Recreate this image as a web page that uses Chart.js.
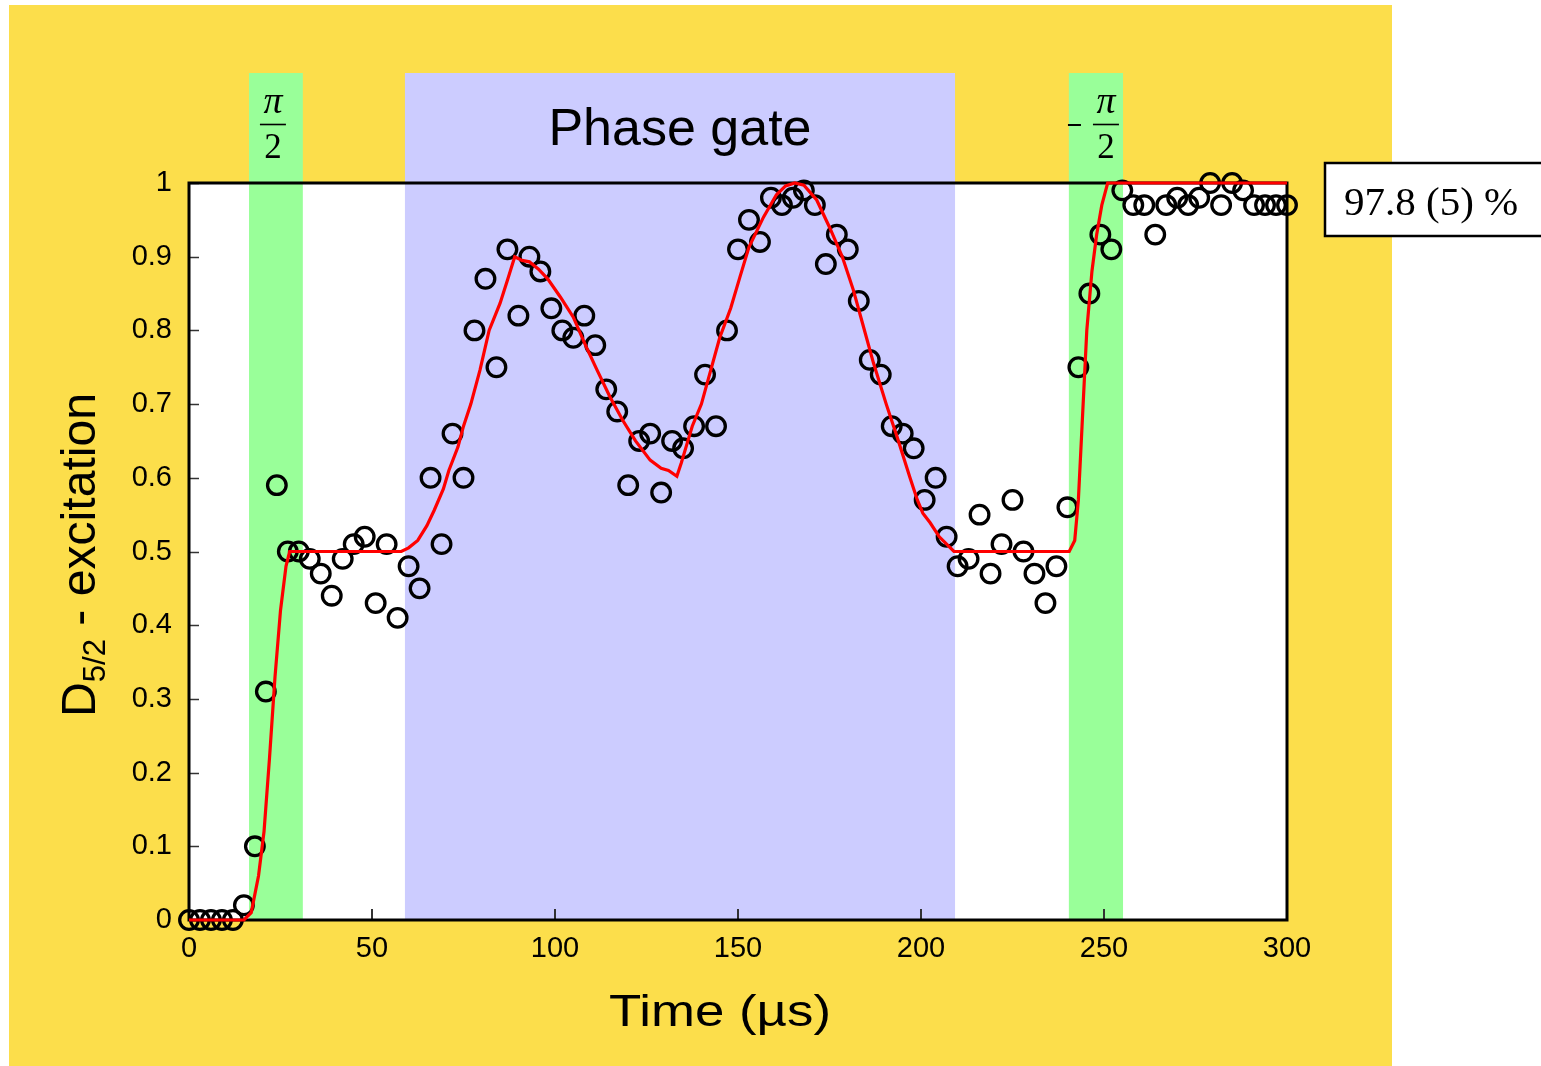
<!DOCTYPE html>
<html><head><meta charset="utf-8">
<script src="https://cdn.jsdelivr.net/npm/chart.js@4.4.0/dist/chart.umd.min.js"></script>
<style>html,body{margin:0;padding:0;background:#fff;overflow:hidden}canvas{display:block}</style>
</head><body>
<canvas id="c" width="1541" height="1066" style="width:1541px;height:1066px"></canvas>
<script>
// ---- data ----
const timeUs = [0,3,6,9,12,15,18,21,24,27,30,33,36,39,42,45,48,51,54,57,60,63,66,69,72,75,78,81,84,87,90,93,96,99,102,105,108,111,114,117,120,123,126,129,132,135,138,141,144,147,150,153,156,159,162,165,168,171,174,177,180,183,186,189,192,195,198,201,204,207,210,213,216,219,222,225,228,231,234,237,240,243,246,249,252,255,258,261,264,267,270,273,276,279,282,285,288,291,294,297,300];
const excitation = [0,0,0,0,0,0.02,0.10,0.31,0.59,0.50,0.50,0.49,0.47,0.44,0.49,0.51,0.52,0.43,0.51,0.41,0.48,0.45,0.60,0.51,0.66,0.60,0.80,0.87,0.75,0.91,0.82,0.90,0.88,0.83,0.80,0.79,0.82,0.78,0.72,0.69,0.59,0.65,0.66,0.58,0.65,0.64,0.67,0.74,0.67,0.80,0.91,0.95,0.92,0.98,0.97,0.98,0.99,0.97,0.89,0.93,0.91,0.84,0.76,0.74,0.67,0.66,0.64,0.57,0.60,0.52,0.48,0.49,0.55,0.47,0.51,0.57,0.50,0.47,0.43,0.48,0.56,0.75,0.85,0.93,0.91,0.99,0.97,0.97,0.93,0.97,0.98,0.97,0.98,1.00,0.97,1.00,0.99,0.97,0.97,0.97,0.97];
const fitTime  = [0,15,17,19,20.5,22,23.5,25,26.5,27.5,58,60,62.5,65,67,69.5,71,73.5,75,77,79.5,82,85,87,89,91,93,95.5,98,101.5,105,108.5,111.5,115,118.5,122,126,129,131,133.3,134.5,136,137.5,140,142.5,145,148,150.5,153,157,160.5,163,165.5,168,171.5,175,178.5,181.5,184,187,190.5,193.5,197,199,200.5,202.5,205,207,209,240.5,242,243,244,245.3,246.7,248,249.4,251,300];
const fitValue = [0,0,0.01,0.06,0.12,0.22,0.33,0.42,0.48,0.50,0.50,0.505,0.515,0.535,0.556,0.585,0.61,0.642,0.67,0.70,0.746,0.80,0.837,0.868,0.90,0.895,0.893,0.883,0.87,0.845,0.818,0.778,0.746,0.71,0.678,0.65,0.624,0.613,0.61,0.602,0.62,0.645,0.67,0.70,0.745,0.79,0.83,0.872,0.913,0.954,0.984,0.996,1.0,0.997,0.977,0.94,0.90,0.855,0.81,0.756,0.70,0.655,0.60,0.57,0.552,0.539,0.52,0.51,0.50,0.50,0.515,0.57,0.67,0.80,0.88,0.93,0.97,1.0,1.0];
const xTicks = [0,50,100,150,200,250,300];
const yTicks = [0,0.1,0.2,0.3,0.4,0.5,0.6,0.7,0.8,0.9,1];
const pulseStart = [16.4, 59.0, 240.4];
const pulseEnd   = [31.1, 209.3, 255.2];
const pulseKind  = ['pi2', 'gate', 'mpi2'];
const gateLabel = 'Phase gate';
const fidelityLabel = '97.8 (5) %';
const xTitle = 'Time (\u00b5s)';

const YELLOW = '#FCDE4B', GREEN = '#99FF99', BLUE = '#CCCCFF';
const SANS = '"Liberation Sans", Arial, sans-serif';
const SERIF = '"Liberation Serif", "Times New Roman", serif';

function fraction(ctx, cx, minus) {
  ctx.save();
  ctx.fillStyle = '#000'; ctx.strokeStyle = '#000';
  ctx.textAlign = 'center';
  ctx.font = 'italic 38px ' + SERIF;
  ctx.textBaseline = 'alphabetic';
  ctx.fillText('\u03c0', cx, 113);
  ctx.lineWidth = 1.6;
  ctx.beginPath(); ctx.moveTo(cx - 13, 124.5); ctx.lineTo(cx + 13, 124.5); ctx.stroke();
  ctx.font = '35px ' + SERIF;
  ctx.fillText('2', cx, 158);
  if (minus) {
    ctx.lineWidth = 2;
    ctx.beginPath(); ctx.moveTo(cx - 38, 125); ctx.lineTo(cx - 25, 125); ctx.stroke();
  }
  ctx.restore();
}

const decor = {
  id: 'decor',
  beforeDraw(chart) {
    const ctx = chart.ctx, ca = chart.chartArea, xs = chart.scales.x;
    ctx.save();
    ctx.fillStyle = '#fff'; ctx.fillRect(0, 0, chart.width, chart.height);
    ctx.fillStyle = YELLOW; ctx.fillRect(9, 5, 1383, 1061);
    ctx.fillStyle = '#fff'; ctx.fillRect(ca.left, ca.top, ca.right - ca.left, ca.bottom - ca.top);
    for (let i = 0; i < pulseStart.length; i++) {
      const x0 = xs.getPixelForValue(pulseStart[i]);
      const x1 = xs.getPixelForValue(pulseEnd[i]);
      ctx.fillStyle = pulseKind[i] === 'gate' ? BLUE : GREEN;
      ctx.fillRect(x0, 73, x1 - x0, ca.bottom - 73);
    }
    ctx.restore();
  },
  beforeDatasetsDraw(chart) {
    const ctx = chart.ctx, ca = chart.chartArea, xs = chart.scales.x, ys = chart.scales.y;
    ctx.save();
    ctx.strokeStyle = '#333'; ctx.lineWidth = 1.5;
    yTicks.forEach(v => {
      const y = Math.round(ys.getPixelForValue(v)) + 0.5;
      ctx.beginPath(); ctx.moveTo(ca.left, y); ctx.lineTo(ca.left + 10, y); ctx.stroke();
    });
    ctx.lineWidth = 2;
    xTicks.forEach(v => {
      const x = Math.round(xs.getPixelForValue(v));
      ctx.beginPath(); ctx.moveTo(x, ca.bottom); ctx.lineTo(x, ca.bottom - 11); ctx.stroke();
    });
    ctx.strokeStyle = '#000'; ctx.lineWidth = 3;
    ctx.strokeRect(ca.left, ca.top, ca.right - ca.left, ca.bottom - ca.top);
    ctx.restore();
  },
  afterDraw(chart) {
    const ctx = chart.ctx, xs = chart.scales.x;
    ctx.save();
    for (let i = 0; i < pulseStart.length; i++) {
      const cx = (xs.getPixelForValue(pulseStart[i]) + xs.getPixelForValue(pulseEnd[i])) / 2;
      if (pulseKind[i] === 'gate') {
        ctx.fillStyle = '#000'; ctx.font = '52px ' + SANS;
        ctx.textAlign = 'center'; ctx.textBaseline = 'alphabetic';
        ctx.fillText(gateLabel, cx, 145);
      } else if (pulseKind[i] === 'mpi2') {
        fraction(ctx, cx + 10, true);
      } else {
        fraction(ctx, cx - 3, false);
      }
    }
    ctx.fillStyle = '#fff'; ctx.fillRect(1325, 163, 230, 73);
    ctx.strokeStyle = '#000'; ctx.lineWidth = 2.5; ctx.strokeRect(1325, 163, 230, 73);
    ctx.fillStyle = '#000'; ctx.font = '41px ' + SERIF; ctx.textAlign = 'left'; ctx.textBaseline = 'alphabetic';
    ctx.fillText(fidelityLabel, 1344, 215);
    ctx.font = '45px ' + SANS;
    const w = ctx.measureText(xTitle).width;
    ctx.save();
    ctx.translate(720, 1026);
    ctx.scale(222 / w, 1);
    ctx.textAlign = 'center';
    ctx.fillText(xTitle, 0, 0);
    ctx.restore();
    ctx.save();
    ctx.translate(95, 717);
    ctx.rotate(-Math.PI / 2);
    ctx.textAlign = 'left';
    const big = '48px ' + SANS, small = '31px ' + SANS;
    ctx.font = big; const wD = ctx.measureText('D').width;
    ctx.font = small; const wS = ctx.measureText('5/2').width;
    ctx.font = big; const wR = ctx.measureText(' - excitation').width;
    const sc = 324 / (wD + wS + wR);
    ctx.scale(sc, 1);
    ctx.font = big; ctx.fillText('D', 0, 0);
    ctx.font = small; ctx.fillText('5/2', wD, 10);
    ctx.font = big; ctx.fillText(' - excitation', wD + wS, 0);
    ctx.restore();
    ctx.restore();
  }
};

new Chart(document.getElementById('c'), {
  type: 'scatter',
  data: {
    datasets: [
      {
        label: 'fit', order: 0, showLine: true, clip: false,
        data: fitTime.map((t, i) => ({ x: t, y: fitValue[i] })),
        borderColor: '#FF0000', borderWidth: 3.2, pointRadius: 0, tension: 0, fill: false
      },
      {
        label: 'data', order: 1, clip: false,
        data: timeUs.map((t, i) => ({ x: t, y: excitation[i] })),
        pointStyle: 'circle', pointRadius: 9.3, pointBorderWidth: 3.3,
        pointBorderColor: '#000', pointBackgroundColor: 'rgba(0,0,0,0)', showLine: false
      }
    ]
  },
  options: {
    responsive: false, animation: false, devicePixelRatio: 1,
    layout: { padding: { left: 0, right: 254, top: 183, bottom: 0 } },
    plugins: { legend: { display: false }, tooltip: { enabled: false } },
    events: [],
    scales: {
      x: {
        type: 'linear', min: 0, max: 300,
        grid: { display: false, drawTicks: false }, border: { display: false },
        afterBuildTicks: s => { s.ticks = xTicks.map(v => ({ value: v })); },
        afterFit: s => { s.height = 146; },
        ticks: { color: '#000', font: { family: SANS, size: 29 }, padding: 12, maxRotation: 0, autoSkip: false, callback: v => String(v) }
      },
      y: {
        type: 'linear', min: 0, max: 1,
        grid: { display: false, drawTicks: false }, border: { display: false },
        afterBuildTicks: s => { s.ticks = yTicks.map(v => ({ value: v })); },
        afterFit: s => { s.width = 189; },
        ticks: { color: '#000', font: { family: SANS, size: 29 }, padding: 17, autoSkip: false, callback: v => String(+v.toFixed(1)) }
      }
    }
  },
  plugins: [decor]
});
</script>
</body></html>
